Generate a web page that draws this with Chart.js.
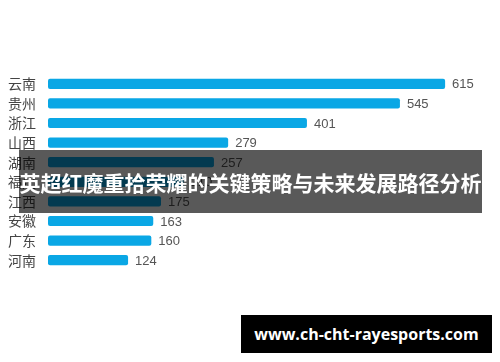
<!DOCTYPE html>
<html>
<head>
<meta charset="utf-8">
<script src="https://cdn.jsdelivr.net/npm/chart.js@4.4.1/dist/chart.umd.min.js"></script>
<style>
  html, body { margin: 0; padding: 0; background: #fff; }
  #wrap { position: relative; width: 500px; height: 362px; overflow: hidden; }
  #chart { position: absolute; left: 0; top: 0; }
  .banner {
    position: absolute; left: 19px; top: 150px; width: 463px; height: 63px;
    background: rgba(0, 0, 0, 0.65);
    color: #fff; font: bold 21px "Noto Sans CJK SC", sans-serif;
    display: flex; align-items: center; justify-content: center;
  }
  .site {
    position: absolute; left: 241px; top: 315px; width: 251px; height: 38px;
    background: #000; color: #fff;
    font: bold 16px "Open Sans", "DejaVu Sans", sans-serif;
    display: flex; align-items: center; justify-content: center;
  }
</style>
</head>
<body>
<div id="wrap">
  <canvas id="chart" width="500" height="362"></canvas>
  <div class="banner">英超红魔重拾荣耀的关键策略与未来发展路径分析</div>
  <div class="site">www.ch-cht-rayesports.com</div>
</div>
<script>
// provinces, top to bottom
const provinces = ['云南', '贵州', '浙江', '山西', '湖南', '福建', '江西', '安徽', '广东', '河南'];
// 福建 is covered by the banner, value estimated
const counts = [615, 545, 401, 279, 257, 210, 175, 163, 160, 124];

const BAR_BLUE = '#0aa7e5';

// draws the number right after each bar
const valueLabels = {
  id: 'valueLabels',
  afterDatasetsDraw(chart) {
    const ctx = chart.ctx;
    const meta = chart.getDatasetMeta(0);
    ctx.save();
    ctx.font = '13px "Liberation Sans", Arial, sans-serif';
    ctx.fillStyle = '#555';
    ctx.textBaseline = 'middle';
    meta.data.forEach((bar, i) => {
      ctx.fillText(counts[i], bar.x + 7, bar.y + 1);
    });
    ctx.restore();
  }
};

new Chart(document.getElementById('chart'), {
  type: 'bar',
  data: {
    labels: provinces,
    datasets: [{
      data: counts,
      backgroundColor: BAR_BLUE,
      borderRadius: 2,
      borderSkipped: false,
      barPercentage: 0.52,
      categoryPercentage: 1,
    }],
  },
  options: {
    indexAxis: 'y',
    responsive: false,
    animation: false,
    layout: { padding: { top: 74, bottom: 92, left: 4, right: 0 } },
    plugins: { legend: { display: false }, tooltip: { enabled: false } },
    scales: {
      x: { display: false, min: 0, max: 700 },
      y: {
        grid: { display: false },
        border: { display: false },
        afterFit(scale) { scale.width = 44; },
        ticks: {
          color: '#444',
          padding: 4,
          autoSkip: false,
          font: { size: 14, family: '"Noto Sans CJK SC", sans-serif' },
        },
      },
    },
  },
  plugins: [valueLabels],
});
</script>
</body>
</html>
